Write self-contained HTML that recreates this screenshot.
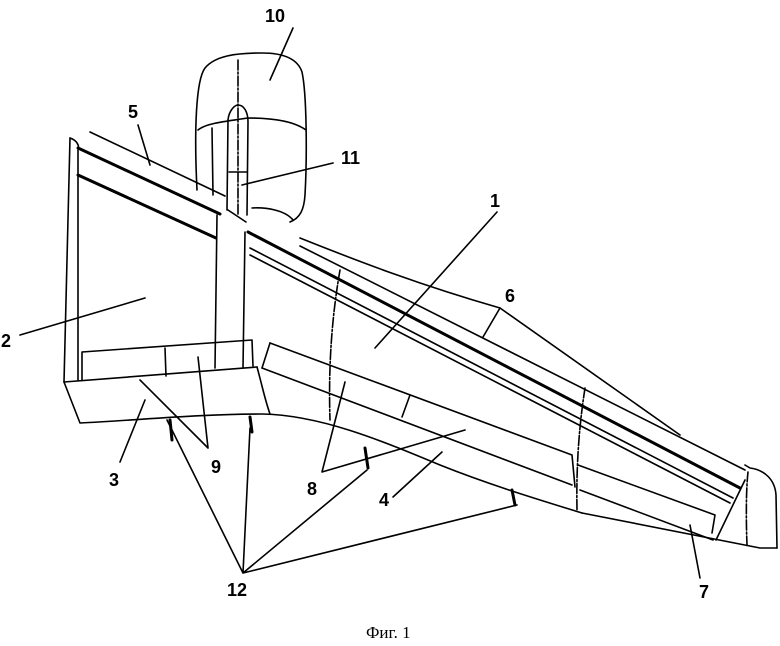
<!DOCTYPE html>
<html><head><meta charset="utf-8"><style>
html,body{margin:0;padding:0;background:#fff;width:780px;height:646px;overflow:hidden}
svg{display:block}
.l{fill:none;stroke:#000;stroke-width:1.6;stroke-linecap:round;stroke-linejoin:round}
.t{stroke-width:3}
.d{stroke-dasharray:10 2 2 2}
text{font-family:"Liberation Sans",sans-serif;font-weight:bold;font-size:18px}
</style></head><body>
<svg width="780" height="646" viewBox="0 0 780 646">
<!-- nacelle -->
<path class="l" d="M197,190 C194,130 196,80 205,68 C215,56 235,53 262,53 C285,53 298,60 302,72 C307,95 307,160 305,195 C304,210 300,218 290,222"/>
<path class="l" d="M198,130 C205,124 220,122 248,118 C275,118 295,122 306,130"/>
<path class="l" d="M212,128 L213,195"/>
<path class="l" d="M252,208 C265,207 285,210 293,220"/>
<path class="l d" d="M238,60 L238,215"/>
<!-- pylon -->
<path class="l" d="M227,210 L228,120 C229,110 235,105 238,105 C244,105 248,112 248,122 L247,215"/>
<path class="l" d="M229,172 L247,172"/>
<!-- left wing section -->
<path class="l" d="M70,138 L64,382"/>
<path class="l" d="M70,138 C76,140 80,145 78,150 L78,380"/>
<path class="l" d="M90,132 L225,196"/>
<path class="l t" d="M78,148 L220,214"/>
<path class="l t" d="M78,175 L216,238"/>
<path class="l" d="M217,215 L215,368"/>
<path class="l" d="M245,232 L243,368"/>
<path class="l" d="M228,210 L246,222"/>
<!-- root trailing edge + flaps 9 -->
<path class="l" d="M64,382 L257,367"/>
<path class="l" d="M82,380 L82,352 L252,340 L253,366"/>
<path class="l" d="M165,348 L166,376"/>
<!-- flap 3 -->
<path class="l" d="M64,382 L80,423 C140,420 200,414 262,414 C320,415 380,440 440,465 C490,485 540,500 582,513"/>
<path class="l" d="M257,367 C262,385 265,400 270,414"/>
<!-- main wing -->
<path class="l t" d="M248,232 L740,488"/>
<path class="l" d="M250,248 L733,498"/>
<path class="l" d="M250,255 L730,503"/>
<path class="l" d="M300,238 C360,262 420,285 500,308 L680,435"/>
<path class="l" d="M300,246 L745,470"/>
<path class="l" d="M500,308 L483,337"/>
<path class="l d" d="M340,270 C333,310 328,360 330,420"/>
<path class="l d" d="M585,388 C580,420 576,460 577,510"/>
<!-- flap 4 -->
<path class="l" d="M270,343 L572,455 L575,487"/>
<path class="l" d="M262,368 L572,485"/>
<path class="l" d="M270,343 L262,368"/>
<path class="l" d="M410,395 L402,417"/>
<!-- aileron 7 -->
<path class="l" d="M578,465 L715,515 L712,533"/>
<path class="l" d="M580,490 L713,540"/>
<path class="l" d="M582,513 L760,548 L777,548"/>
<!-- tip -->
<path class="l" d="M745,465 L750,468 C765,470 775,480 776,495 L777,548"/>
<path class="l d" d="M748,472 C746,490 746,520 747,545"/>
<path class="l" d="M745,480 L716,540"/>
<!-- actuators -->
<path class="l t" d="M170,420 L172,440"/>
<path class="l t" d="M250,417 L252,432"/>
<path class="l t" d="M365,448 L368,468"/>
<path class="l t" d="M512,490 L515,505"/>
<!-- leaders -->
<path class="l" d="M293,28 L270,80"/>
<path class="l" d="M333,163 L242,185"/>
<path class="l" d="M138,125 L150,165"/>
<path class="l" d="M497,212 L375,348"/>
<path class="l" d="M20,335 L145,298"/>
<path class="l" d="M120,462 L145,400"/>
<path class="l" d="M140,380 L208,448 L198,357"/>
<path class="l" d="M345,382 L322,472 L465,430"/>
<path class="l" d="M393,497 L442,452"/>
<path class="l" d="M700,578 L690,525"/>
<path class="l" d="M167,420 L243,573 L250,428 M243,573 L367,470 M243,573 L517,505"/>
<!-- labels -->
<text x="265" y="22">10</text>
<text x="128" y="118">5</text>
<text x="341" y="164">11</text>
<text x="490" y="207">1</text>
<text x="505" y="302">6</text>
<text x="1" y="347">2</text>
<text x="109" y="486">3</text>
<text x="211" y="473">9</text>
<text x="307" y="495">8</text>
<text x="379" y="506">4</text>
<text x="227" y="596">12</text>
<text x="699" y="598">7</text>
<text x="366" y="638" style="font-family:'Liberation Serif',serif;font-weight:normal;font-size:17px">Фиг. 1</text>
</svg>
</body></html>
